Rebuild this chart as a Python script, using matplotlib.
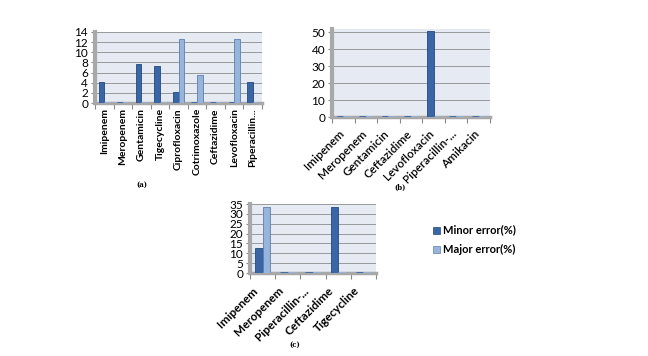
import matplotlib.pyplot as plt
import numpy as np
from matplotlib.transforms import offset_copy

# --- panel (a) ---
drugs_a = ['Imipenem', 'Meropenem', 'Gentamicin', 'Tigecycline', 'Ciprofloxacin',
           'Cotrimoxazole', 'Ceftazidime', 'Levofloxacin', 'Piperacillin...']
minor_a = [4.2, 0, 7.6, 7.2, 2.1, 0, 0, 0, 4.1]
major_a = [0, 0, 0, 0, 12.7, 5.6, 0, 12.7, 0]

# --- panel (b) ---
drugs_b = ['Imipenem', 'Meropenem', 'Gentamicin', 'Ceftazidime', 'Levofloxacin',
           'Piperacillin-...', 'Amikacin']
minor_b = [0, 0, 0, 0, 51, 0, 0]
major_b = [0, 0, 0, 0, 0, 0, 0]

# --- panel (c) ---
drugs_c = ['Imipenem', 'Meropenem', 'Piperacillin-...', 'Ceftazidime', 'Tigecycline']
minor_c = [12.5, 0, 0, 33.3, 0]
major_c = [33.3, 0, 0, 0, 0]

minor_col = '#3a66a6'
major_col = '#97b4da'
wall_col = '#e6eaf3'

plt.rcParams['font.family'] = ['Lato', 'DejaVu Sans']

fig = plt.figure(figsize=(6.48, 3.56), dpi=100)
fig.patch.set_facecolor('white')


def panel(rect, cats, minor, major, ymax, yticks, rot, weight, lsize, drop, shift,
          tag, tag_xy):
    ax = fig.add_axes(rect)
    x = np.arange(len(cats))
    w = 0.3
    ax.bar(x - w / 2, minor, w, color=minor_col, edgecolor='#23497e', linewidth=0.6,
           zorder=3)
    ax.bar(x + w / 2, major, w, color=major_col, edgecolor='#5f7fae', linewidth=0.6,
           zorder=3)
    # flat bases like the 3D excel bars
    base = np.zeros(len(cats))
    ax.hlines(base, x - w, x, color=minor_col, lw=2, zorder=3)
    ax.hlines(base, x, x + w, color=major_col, lw=2, zorder=3)
    ax.set_facecolor(wall_col)
    ax.set_xlim(-0.5, len(cats) - 0.5)
    ax.set_ylim(0, ymax)
    ax.set_yticks(yticks)
    ax.yaxis.grid(True, color='#8c8c8c', linewidth=0.6, zorder=0)
    ax.set_axisbelow(True)
    ax.set_xticks(np.arange(len(cats) + 1) - 0.5)
    ax.set_xticklabels([])
    ax.tick_params(axis='x', length=4, color='#888888')
    ax.tick_params(axis='y', length=3, color='#888888', labelsize=8.5, pad=2)
    tr = offset_copy(ax.get_xaxis_transform(), fig=fig, x=0, y=-drop, units='dots')
    for i, c in enumerate(cats):
        if rot == 90:
            ax.text(i, 0, c, transform=tr, rotation=90, ha='center', va='top',
                    fontsize=lsize, fontweight=weight)
        else:
            ax.text(i + shift, 0, c, transform=tr, rotation=45, rotation_mode='anchor',
                    ha='right', va='center', fontsize=lsize, fontweight=weight)
    for s in ['top', 'right']:
        ax.spines[s].set_visible(False)
    ax.spines['left'].set_color('#a8a8a8')
    ax.spines['left'].set_linewidth(3)
    ax.spines['bottom'].set_color('#a8a8a8')
    ax.spines['bottom'].set_linewidth(2.5)
    fig.text(tag_xy[0], tag_xy[1], tag, fontsize=5, fontweight='bold',
             family='DejaVu Serif', ha='center', va='center')
    return ax


panel([95 / 648, 1 - 103 / 356, 167 / 648, 71 / 356], drugs_a, minor_a, major_a,
      14, range(0, 15, 2), 90, 'bold', 7.5, 5, 0, '(a)', (142 / 648, 1 - 185 / 356))
panel([332 / 648, 1 - 117 / 356, 158 / 648, 88 / 356], drugs_b, minor_b, major_b,
      52, range(0, 51, 10), 45, 'semibold', 8.5, 15, -0.05, '(b)',
      (400 / 648, 1 - 188 / 356))
panel([250 / 648, 1 - 273 / 356, 126 / 648, 69 / 356], drugs_c, minor_c, major_c,
      35, range(0, 36, 5), 45, 'bold', 8.5, 16, -0.25, '(c)',
      (295 / 648, 1 - 345 / 356))

# legend
for yy, lab, col, ec in [(230, 'Minor error(%)', minor_col, '#23497e'),
                         (249, 'Major error(%)', major_col, '#5f7fae')]:
    fig.patches.append(plt.Rectangle((433 / 648, 1 - (yy + 3.5) / 356), 7 / 648, 7 / 356,
                                     transform=fig.transFigure, facecolor=col,
                                     edgecolor=ec, linewidth=0.5))
    fig.text(443 / 648, 1 - yy / 356, lab, fontsize=8, fontweight='bold',
             ha='left', va='center')

fig.savefig('out.png', dpi=100)
